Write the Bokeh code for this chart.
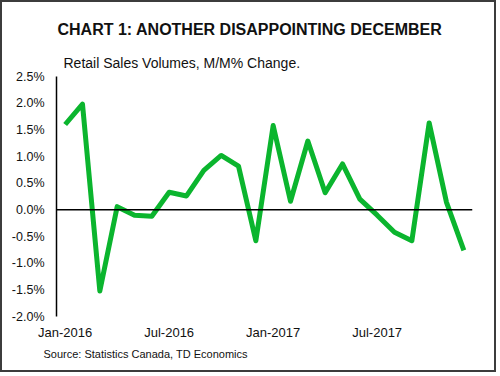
from bokeh.plotting import figure
from bokeh.models import Title, Span, Range1d, FixedTicker, PrintfTickFormatter
from bokeh.embed import file_html
from bokeh.resources import INLINE

months = ["Jan-2016", "Feb-2016", "Mar-2016", "Apr-2016", "May-2016", "Jun-2016",
          "Jul-2016", "Aug-2016", "Sep-2016", "Oct-2016", "Nov-2016", "Dec-2016",
          "Jan-2017", "Feb-2017", "Mar-2017", "Apr-2017", "May-2017", "Jun-2017",
          "Jul-2017", "Aug-2017", "Sep-2017", "Oct-2017", "Nov-2017", "Dec-2017"]
values = [1.60, 1.98, -1.52, 0.06, -0.10, -0.12, 0.33, 0.26, 0.74, 1.02, 0.82, -0.58,
          1.58, 0.16, 1.29, 0.32, 0.86, 0.20, -0.10, -0.42, -0.58, 1.63, 0.14, -0.76]
y_ticks = [-2.0, -1.5, -1.0, -0.5, 0.0, 0.5, 1.0, 1.5, 2.0, 2.5]
x_tick_pos = [0, 6, 12, 18]
x_tick_labels = ["Jan-2016", "Jul-2016", "Jan-2017", "Jul-2017"]

OFF = 2
W, H = 496, 372
FONT = "Liberation Sans"
FRAME_L, FRAME_B = 56, 316  # frame left / bottom in reference pixels

p = figure(width=W, height=H, output_backend="svg", toolbar_location=None,
           x_range=Range1d(-0.5, 23.5), y_range=Range1d(-2.0, 2.5),
           min_border_left=FRAME_L - OFF, min_border_right=W - (472 - OFF),
           min_border_top=76 - OFF, min_border_bottom=H - (FRAME_B - OFF),
           styles={"border": "2px solid #3c3c3c"})
p.background_fill_color = "white"
p.border_fill_color = "white"
p.outline_line_color = None
p.xgrid.grid_line_color = None
p.ygrid.grid_line_color = None

xs = list(range(len(months)))
p.line(xs, values, line_color="#0BB52E", line_width=5, line_join="round")

p.add_layout(Span(location=0, dimension="width", line_color="black", line_width=1.5))

ya = p.yaxis[0]
ya.ticker = FixedTicker(ticks=y_ticks)
ya.formatter = PrintfTickFormatter(format="%.1f%%")
ya.major_tick_line_color = None
ya.minor_tick_line_color = None
ya.major_tick_out = 0
ya.major_tick_in = 0
ya.minor_tick_out = 0
ya.axis_line_color = "black"
ya.axis_line_width = 1.5
ya.major_label_text_font = FONT
ya.major_label_text_font_size = "12.5px"
ya.major_label_text_color = "#111111"
ya.major_label_standoff = 12

xa = p.xaxis[0]
xa.ticker = FixedTicker(ticks=x_tick_pos)
xa.major_label_overrides = {pos: lab for pos, lab in zip(x_tick_pos, x_tick_labels)}
xa.major_tick_line_color = None
xa.minor_tick_line_color = None
xa.major_tick_out = 0
xa.major_tick_in = 0
xa.minor_tick_out = 0
xa.axis_line_color = None
xa.major_label_text_font = FONT
xa.major_label_text_font_size = "13px"
xa.major_label_text_color = "#111111"
xa.major_label_standoff = 8

# main title (outer, top)
p.title.text = "CHART 1: ANOTHER DISAPPOINTING DECEMBER"
p.title.text_font = FONT
p.title.text_font_size = "16px"
p.title.text_font_style = "bold"
p.title.text_color = "#111111"
p.title.align = "left"
p.title.offset = 57 - FRAME_L
p.title.standoff = 17

# subtitle (closest to frame)
subtitle = Title(text="Retail Sales Volumes, M/M% Change.", text_font=FONT,
                 text_font_size="14px", text_font_style="normal", text_color="#111111",
                 align="left", offset=63 - FRAME_L, standoff=12)
p.add_layout(subtitle, "above")

source = Title(text="Source: Statistics Canada, TD Economics", text_font=FONT,
               text_font_size="11px", text_font_style="normal", text_color="#111111",
               align="left", offset=43 - FRAME_L, standoff=6)
p.add_layout(source, "below")

open("out.html", "w").write(file_html(p, INLINE))
